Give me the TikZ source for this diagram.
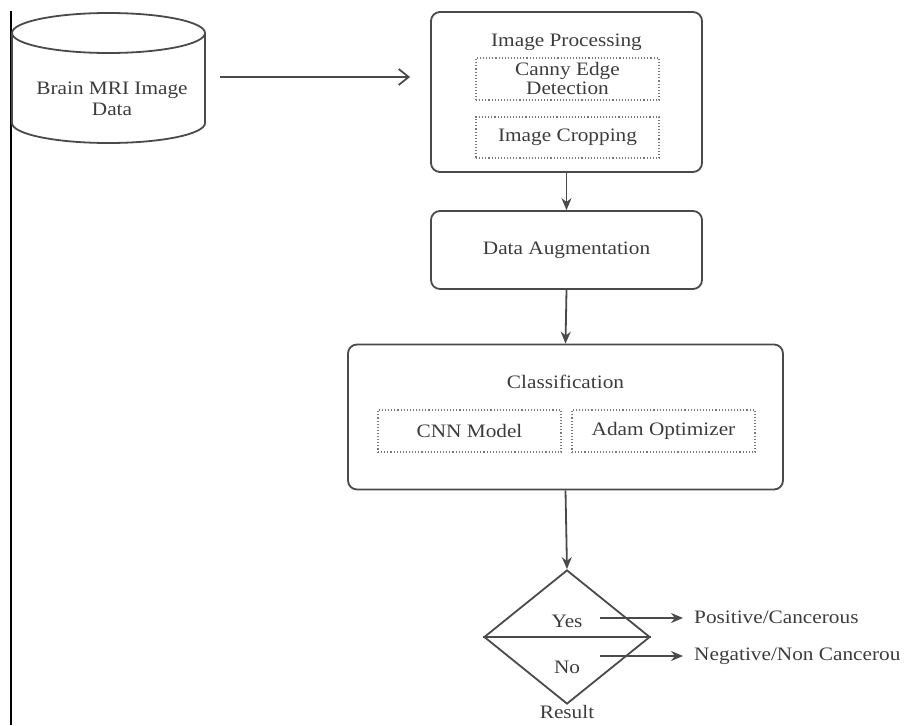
\documentclass[tikz,border=0pt]{standalone}
\usepackage{fontspec}
\setmainfont{Liberation Serif}[FakeStretch=1.12]
\usetikzlibrary{arrows.meta,shapes.geometric}
\definecolor{ln}{HTML}{4A4A4A}
\definecolor{tx}{HTML}{3C3C3C}
\begin{document}
\begin{tikzpicture}[x=1pt,y=-1pt,
  every node/.style={text=tx,font=\fontsize{19}{21}\selectfont},
  bigbox/.style={draw=ln,line width=1.8pt,rounded corners=9pt,minimum width=#1,inner sep=0pt},
  dotbox/.style={draw=ln!75,line width=1.1pt,dotted,inner sep=0pt},
  arr/.style={draw=ln,line width=1.8pt,-{Stealth[length=12pt,width=10pt]}},
  lbl/.style={inner sep=0pt}]
\useasboundingbox (0,0) rectangle (904,725);
% left frame line
\draw[black,line width=2.2pt] (11,11) -- (11,725);
% cylinder
\draw[ln,line width=1.8pt] (12,33) -- (12,123) arc[start angle=180,end angle=0,x radius=96.5,y radius=20] -- (205,33);
\draw[ln,line width=1.8pt] (108.5,33) ellipse[x radius=96.5,y radius=20];
\node[lbl,align=center] (mri) at (112,99) {Brain MRI Image\\Data};
\coordinate (mriR) at (220,77);
% image processing
\node[bigbox=271pt,minimum height=160pt] (ip) at (566.5,92) {};
\node[lbl] (ipt) at (566.5,42) {Image Processing};
\node[dotbox,minimum width=183pt,minimum height=42pt,align=center] (canny) at (567.5,79) {Canny Edge\\[-2pt]Detection};
\node[dotbox,minimum width=183pt,minimum height=41pt] (crop) at (567.5,137.5) {Image Cropping};
\draw[ln,line width=1.8pt,-{Straight Barb[length=10pt,width=16pt]}] (mriR) -- ([xshift=-20pt]ip.west |- mriR);
% data augmentation
\node[bigbox=271pt,minimum height=78pt] (da) at (566.5,250) {Data Augmentation};
% classification
\node[bigbox=435pt,minimum height=145pt] (cl) at (565.5,417) {};
\node[lbl] (clt) at (565.5,382) {Classification};
\node[dotbox,minimum width=183pt,minimum height=42pt] (cnn) at (469.5,431) {CNN Model};
\node[dotbox,minimum width=183pt,minimum height=42pt] (adam) at (663.5,431) {Adam Optimizer};
% decision
\node[diamond,draw=ln,line width=1.8pt,minimum width=166pt,minimum height=134pt,inner sep=0pt] (dec) at (567,637) {};
\draw[ln,line width=1.8pt] (dec.west) -- (dec.east);
\node[lbl] (yes) at (567,621) {Yes};
\node[lbl] (no) at (567,667) {No};
\node[lbl] (res) at (567,712) {Result};
\coordinate (ys) at (600,618);
\coordinate (ns) at (600,656);
\node[lbl,anchor=west] (pos) at (694,617) {Positive/Cancerous};
\node[lbl,anchor=west] (neg) at (694,656) {Negative/Non Cancerou};
% connectors
\draw[arr] (ip.south) -- (da.north);
\draw[arr] (da.south) -- (cl.north);
\draw[arr] (cl.south) -- (dec.north);
\draw[arr] (ys) -- (683,618);
\draw[arr] (ns) -- (683,656);
\end{tikzpicture}
\end{document}
